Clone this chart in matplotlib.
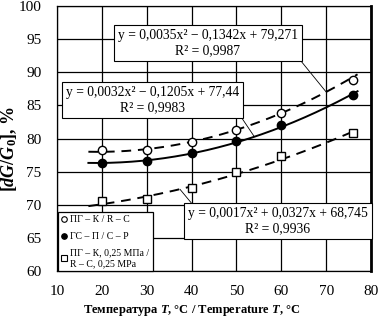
import matplotlib
matplotlib.use("Agg")
import matplotlib.pyplot as plt
from matplotlib.lines import Line2D
import numpy as np

# measured points
temps = [20, 30, 40, 50, 60, 76]
rc = [78.2, 78.3, 79.4, 81.3, 83.9, 88.8]          # open circles
cp = [76.3, 76.6, 77.8, 79.6, 82.0, 86.6]          # filled circles
rc_025 = [70.5, 70.9, 72.6, 75.0, 77.4, 80.8]      # open squares

# trend line coefficients (from the chart labels)
coef_rc = [0.0035, -0.1342, 79.271]
coef_cp = [0.0032, -0.1205, 77.44]
coef_rc025 = [0.0017, 0.0327, 68.745]
trend_range = [17, 77]

eq_rc = "y = 0,0035x² − 0,1342x + 79,271\nR² = 0,9987"
eq_cp = "y = 0,0032x² − 0,1205x + 77,44\nR² = 0,9983"
eq_rc025 = "y = 0,0017x² + 0,0327x + 68,745\nR² = 0,9936"

lab_rc = "ПГ – К / R – C"
lab_cp = "ГС – П / С – Р"
lab_rc025 = "ПГ – К, 0,25 МПа /\nR – C, 0,25 MPa"

plt.rcParams['font.family'] = ['Liberation Serif', 'DejaVu Serif']
plt.rcParams['mathtext.fontset'] = 'custom'
plt.rcParams['mathtext.rm'] = 'Liberation Serif:bold'
plt.rcParams['mathtext.it'] = 'Liberation Serif:italic:bold'
plt.rcParams['mathtext.bf'] = 'Liberation Serif:bold'

fig = plt.figure(figsize=(3.79, 3.18), dpi=100)
ax = fig.add_axes([57/379, 47/318, 314/379, 265/318])

xs = np.linspace(trend_range[0], trend_range[1], 200)
ax.plot(xs, np.polyval(coef_rc, xs), color='black', lw=1.4, ls=(0, (5, 3.5)), zorder=3)
ax.plot(xs, np.polyval(coef_cp, xs), color='black', lw=1.4, ls='-', zorder=3)
ax.plot(xs, np.polyval(coef_rc025, xs), color='black', lw=1.4, ls=(0, (5, 3.5)), zorder=3)

ax.plot(temps, rc, ls='none', marker='o', ms=6, mfc='white', mec='black', mew=1, zorder=4)
ax.plot(temps, cp, ls='none', marker='o', ms=6, mfc='black', mec='black', mew=1, zorder=4)
ax.plot(temps, rc_025, ls='none', marker='s', ms=6, mfc='white', mec='black', mew=1, zorder=4)

ax.set_xlim(10, 80)
ax.set_ylim(60, 100)
ax.set_xticks(np.arange(10, 81, 10))
ax.set_yticks(np.arange(60, 101, 5))
ax.tick_params(length=0, labelsize=11)
ax.tick_params(axis='y', pad=11)
ax.tick_params(axis='x', pad=10)
ax.grid(True, color='black', lw=0.9)
ax.set_axisbelow(True)
for gl in ax.get_xgridlines():
    if abs(gl.get_xdata()[0] - 70) < 1e-6:
        gl.set_linewidth(1.8)
for sp in ax.spines.values():
    sp.set_linewidth(0.9)
ax.spines['right'].set_linewidth(2)

ax.set_xlabel(r"Температура $T$, °C / Temperature $T$, °C", fontsize=9,
              fontweight='bold', va='center')
ax.xaxis.set_label_coords(0.43, -0.148)
ax.set_ylabel(r"[$dG/G$$_0$], %", fontsize=13, fontweight='bold', va='center')
ax.yaxis.set_label_coords(-0.152, 0.46)

box = dict(boxstyle='square,pad=0.3', fc='white', ec='black', lw=0.8)
ax.annotate(eq_rc, xy=(70, np.polyval(coef_rc, 70)), xytext=(43.6, 94.4),
            ha='center', va='center', multialignment='center', fontsize=9.8, bbox=box,
            arrowprops=dict(arrowstyle='-', lw=0.6, color='black', relpos=(1, 0),
                            shrinkA=0, shrinkB=0), zorder=6)
ax.annotate(eq_cp, xy=(54, np.polyval(coef_cp, 54)), xytext=(31.3, 85.8),
            ha='center', va='center', multialignment='center', fontsize=9.8, bbox=box,
            arrowprops=dict(arrowstyle='-', lw=0.6, color='black', relpos=(1, 0),
                            shrinkA=0, shrinkB=0), zorder=6)
ax.annotate(eq_rc025, xy=(37.4, np.polyval(coef_rc025, 37.4)), xytext=(59.2, 67.5),
            ha='center', va='center', multialignment='center', fontsize=9.8, bbox=box,
            arrowprops=dict(arrowstyle='-', lw=0.6, color='black', relpos=(0.04, 1),
                            shrinkA=0, shrinkB=0), zorder=6)

handles = [
    Line2D([], [], ls='none', marker='o', ms=4, mfc='white', mec='black', mew=0.8),
    Line2D([], [], ls='none', marker='o', ms=4, mfc='black', mec='black', mew=0.8),
    Line2D([], [], ls='none', marker='s', ms=4, mfc='white', mec='black', mew=0.8),
]
leg = ax.legend(handles, [lab_rc, lab_cp, lab_rc025], loc='lower left',
                bbox_to_anchor=(0.003, 0.0, 0.303, 0.219), mode='expand',
                fontsize=7, handlelength=0.6, handletextpad=0.3, labelspacing=0.8,
                borderpad=0.3, borderaxespad=0, fancybox=False, framealpha=1,
                edgecolor='black')
leg.get_frame().set_linewidth(0.9)
leg.set_zorder(7)

fig.savefig("out.png", dpi=100)
